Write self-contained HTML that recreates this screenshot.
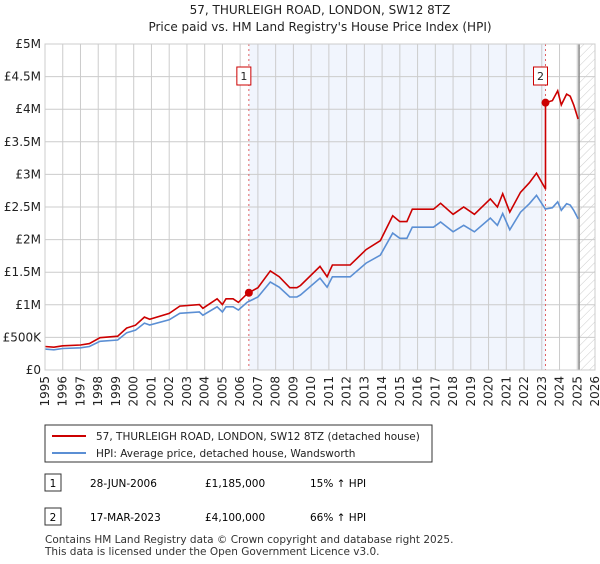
<!DOCTYPE html>
<html><head><meta charset="utf-8"><style>
body{margin:0;background:#fff;font-family:"DejaVu Sans","Liberation Sans",sans-serif;}
svg text{font-family:"DejaVu Sans","Liberation Sans",sans-serif;}
</style></head><body>
<svg id="c" width="600" height="560" xmlns="http://www.w3.org/2000/svg">
<defs><pattern id="hatch" width="6" height="6" patternUnits="userSpaceOnUse" patternTransform="rotate(45)"><line x1="0" y1="0" x2="0" y2="6" stroke="#ccc" stroke-width="1"/></pattern></defs>
<text x="320" y="14" text-anchor="middle" font-size="12" fill="#222">57, THURLEIGH ROAD, LONDON, SW12 8TZ</text>
<text x="320" y="31" text-anchor="middle" font-size="12" fill="#222">Price paid vs. HM Land Registry's House Price Index (HPI)</text>
<g id="plot"></g>
<rect x="45" y="425" width="387" height="37" fill="#fff" stroke="#333"/>
<line x1="52" y1="436" x2="86" y2="436" stroke="#cc0000" stroke-width="2"/>
<text x="96" y="440" font-size="10.5" fill="#222">57, THURLEIGH ROAD, LONDON, SW12 8TZ (detached house)</text>
<line x1="52" y1="453" x2="86" y2="453" stroke="#5b8fd4" stroke-width="2"/>
<text x="96" y="457" font-size="10.5" fill="#222">HPI: Average price, detached house, Wandsworth</text>
<rect x="45" y="474" width="16" height="17" fill="#fff" stroke="#333"/>
<text x="53" y="487" text-anchor="middle" font-size="10.5">1</text>
<text x="90" y="487" font-size="10.5">28-JUN-2006</text>
<text x="205" y="487" font-size="10.5">£1,185,000</text>
<text x="310" y="487" font-size="10.5">15% ↑ HPI</text>
<rect x="45" y="508" width="16" height="17" fill="#fff" stroke="#333"/>
<text x="53" y="521" text-anchor="middle" font-size="10.5">2</text>
<text x="90" y="521" font-size="10.5">17-MAR-2023</text>
<text x="205" y="521" font-size="10.5">£4,100,000</text>
<text x="310" y="521" font-size="10.5">66% ↑ HPI</text>
<text x="45" y="543" font-size="10.5" fill="#333">Contains HM Land Registry data © Crown copyright and database right 2025.</text>
<text x="45" y="555" font-size="10.5" fill="#333">This data is licensed under the Open Government Licence v3.0.</text>
</svg>
<script>
const hpiYears=[1995,1995.5,1996,1997,1997.5,1998.1,1999.1,1999.6,2000.1,2000.6,2000.9,2002,2002.6,2003.7,2003.9,2004.7,2005,2005.2,2005.6,2005.9,2006.4,2007,2007.7,2008.2,2008.8,2009.2,2009.4,2010.5,2010.9,2011.2,2012.2,2013.1,2013.9,2014.6,2015,2015.4,2015.7,2016.9,2017.3,2018,2018.6,2019.2,2020.1,2020.5,2020.8,2021.2,2021.8,2022.3,2022.7,2023.2,2023.6,2023.9,2024.1,2024.4,2024.6,2024.8,2025.05];
const hpiValues=[0.32,0.31,0.33,0.34,0.36,0.44,0.46,0.57,0.61,0.72,0.69,0.77,0.87,0.89,0.84,0.97,0.89,0.97,0.97,0.92,1.04,1.12,1.35,1.27,1.12,1.12,1.15,1.41,1.27,1.43,1.43,1.64,1.76,2.10,2.02,2.02,2.19,2.19,2.27,2.12,2.22,2.12,2.33,2.22,2.40,2.15,2.42,2.55,2.68,2.47,2.49,2.58,2.45,2.55,2.53,2.45,2.32];
const saleYears=[2006.49,2023.21];
const salePrices=[1.185,4.1];
const saleLabels=["1","2"];
const yTicks=[0,0.5,1,1.5,2,2.5,3,3.5,4,4.5,5];
const yTickLabels=["£0","£500K","£1M","£1.5M","£2M","£2.5M","£3M","£3.5M","£4M","£4.5M","£5M"];
const xTicks=[1995,1996,1997,1998,1999,2000,2001,2002,2003,2004,2005,2006,2007,2008,2009,2010,2011,2012,2013,2014,2015,2016,2017,2018,2019,2020,2021,2022,2023,2024,2025,2026];
const dataEnd=2025.1;

const L=45,R=595,T=44,B=370,X0=1995,X1=2026,Y1=5;
const xs=v=>L+(v-X0)/(X1-X0)*(R-L);
const ys=v=>B-v/Y1*(B-T);
const NS="http://www.w3.org/2000/svg";
const g=document.getElementById('plot');
function mk(tag,attrs,parent){const e=document.createElementNS(NS,tag);for(const k in attrs)e.setAttribute(k,attrs[k]);(parent||g).appendChild(e);return e;}
function hpiAt(y){for(let i=0;i<hpiYears.length-1;i++){if(y>=hpiYears[i]&&y<=hpiYears[i+1]){const t=(y-hpiYears[i])/(hpiYears[i+1]-hpiYears[i]);return hpiValues[i]+t*(hpiValues[i+1]-hpiValues[i]);}}return hpiValues[hpiValues.length-1];}

let e=mk('rect',{x:L,y:T,width:R-L,height:B-T,fill:'#fff'});


e=mk('rect',{x:xs(saleYears[0]),y:T,width:xs(saleYears[1])-xs(saleYears[0]),height:B-T,fill:'#eef3fd',opacity:0.8});


e=mk('rect',{x:xs(dataEnd),y:T,width:R-xs(dataEnd),height:B-T,fill:'url(#hatch)'});


yTicks.forEach((v,i)=>{
 let l=mk('line',{x1:L,x2:R,y1:ys(v),y2:ys(v),stroke:'#ccc'});
 
 
 let t=mk('text',{x:L-4,y:ys(v)+4,'text-anchor':'end','font-size':12,fill:'#222'});
 t.textContent=yTickLabels[i];
 
 
});
xTicks.forEach(v=>{
 let l=mk('line',{x1:xs(v),x2:xs(v),y1:T,y2:B,stroke:'#ccc'});
 
 
 let t=mk('text',{x:0,y:0,'text-anchor':'end','font-size':12,fill:'#222',transform:`translate(${xs(v)+4},${B+6}) rotate(-90)`});
 t.textContent=String(v);
 
 
});
e=mk('line',{x1:xs(dataEnd),x2:xs(dataEnd),y1:T,y2:B,stroke:'#888','stroke-width':1.5});


saleYears.forEach(v=>{
 let l=mk('line',{x1:xs(v),x2:xs(v),y1:T,y2:B,stroke:'#e06060','stroke-dasharray':'2,3'});
 
 
});
let pts=hpiYears.map((y,i)=>xs(y).toFixed(1)+','+ys(hpiValues[i]).toFixed(1)).join(' ');
e=mk('polyline',{points:pts,fill:'none',stroke:'#5b8fd4','stroke-width':1.6});


const r1=salePrices[0]/hpiAt(saleYears[0]),r2=salePrices[1]/hpiAt(saleYears[1]);
let rp=[];
hpiYears.forEach((y,i)=>{ if(y<saleYears[1]) rp.push([y,hpiValues[i]*r1]); });
rp.push([saleYears[1],hpiAt(saleYears[1])*r1]);
rp.push([saleYears[1],salePrices[1]]);
hpiYears.forEach((y,i)=>{ if(y>saleYears[1]) rp.push([y,hpiValues[i]*r2]); });
e=mk('polyline',{points:rp.map(p=>xs(p[0]).toFixed(1)+','+ys(p[1]).toFixed(1)).join(' '),fill:'none',stroke:'#cc0000','stroke-width':1.6});


saleYears.forEach((v,i)=>{
 let c=mk('circle',{cx:xs(v),cy:ys(salePrices[i]),r:4,fill:'#cc0000'});
 
 
 let b=mk('rect',{x:xs(v)-12,y:67,width:14,height:18,fill:'#fff',stroke:'#cc0000'});
 
 
 let t=mk('text',{x:xs(v)-5,y:80,'text-anchor':'middle','font-size':11,fill:'#222'});
 t.textContent=saleLabels[i];
 
 
});
e=mk('rect',{x:L,y:T,width:R-L,height:B-T,fill:'none',stroke:'#ccc'});


</script>
</body></html>
